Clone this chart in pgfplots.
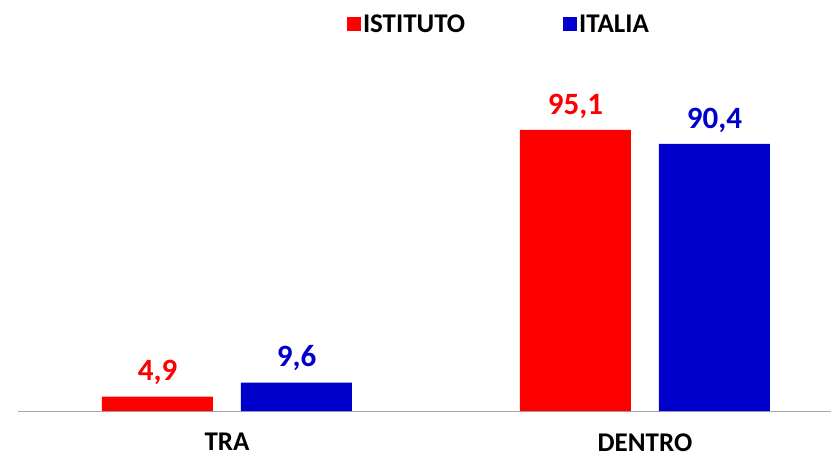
\documentclass[border=0pt]{standalone}
\usepackage{pgfplots}
\pgfplotsset{compat=1.18}
\usepackage{fontspec}
\setmainfont{Carlito}
\definecolor{cred}{HTML}{FF0000}
\definecolor{cblue}{HTML}{0000CC}
\begin{document}
\begin{tikzpicture}
\useasboundingbox (0,0) rectangle (831pt,456pt);
\begin{axis}[
  at={(18pt,45pt)}, anchor=south west,
  scale only axis, width=813pt, height=295.5pt,
  ymin=0, ymax=100, xmin=-0.5, xmax=1.445,
  hide y axis,
  axis x line*=bottom,
  x axis line style={draw=black!35, line width=1pt},
  xtick={0,1}, xticklabels={TRA,DENTRO},
  xtick style={draw=none},
  xticklabel style={font=\fontsize{27}{30}\selectfont\bfseries, inner sep=0pt, text depth=0pt, yshift=-18pt},
  ybar, bar width=111pt,
  clip=false,
  nodes near coords,
  /pgf/number format/.cd, use comma, fixed, fixed zerofill, precision=1, assume math mode=true,
  /pgfplots/.cd,
  nodes near coords style={font=\fontsize{31}{34}\selectfont\bfseries, yshift=8pt},
  legend style={at={(0.5916,1.3096)}, anchor=center, draw=none, fill=none,
    font=\fontsize{27}{30}\selectfont\bfseries, legend columns=2,
    /tikz/every even column/.append style={column sep=96pt}},
  legend image code/.code={\fill[#1] (-4pt,-7pt) rectangle (10pt,7pt);},
]
\addplot[fill=cred, draw=none, bar shift=-69.5pt, every node near coord/.append style={text=cred}] coordinates {(0,4.9) (1,95.1)};
\addplot[fill=cblue, draw=none, bar shift=69.5pt, every node near coord/.append style={text=cblue}] coordinates {(0,9.6) (1,90.4)};
\legend{ISTITUTO, ITALIA}
\end{axis}
\end{tikzpicture}
\end{document}
